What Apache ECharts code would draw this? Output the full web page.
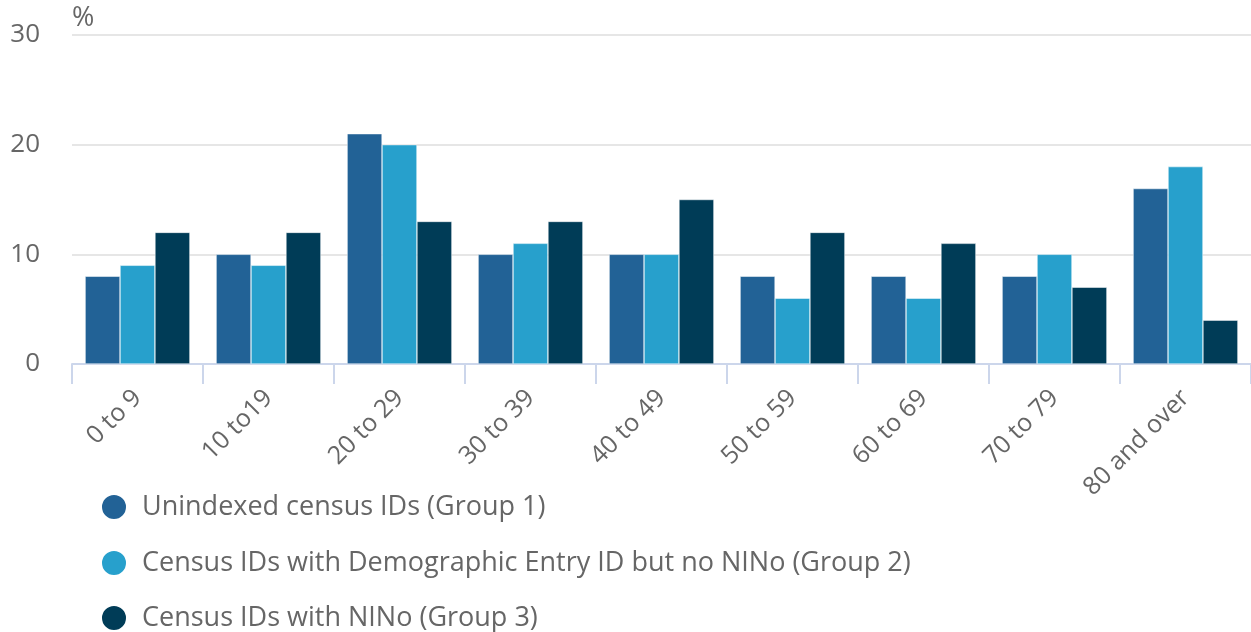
<!DOCTYPE html>
<html lang="en">
<head>
    <meta charset="UTF-8">
    <title>Census IDs by age group</title>
    <style type="text/css">
        body { margin: 0; background: #fff; }
        #chart { width: 1251px; height: 632px; }
    </style>
    <script type="text/javascript" src="https://cdn.jsdelivr.net/npm/echarts@6/dist/echarts.min.js"></script>
</head>
<body>
    <div id="chart"></div>
</body>
</html>
<script type="text/javascript">
    var ageGroups = ['0 to 9', '10 to19', '20 to 29', '30 to 39', '40 to 49', '50 to 59', '60 to 69', '70 to 79', '80 and over'];
    var group1 = [8, 10, 21, 10, 10, 8, 8, 8, 16];
    var group2 = [9, 9, 20, 11, 10, 6, 6, 10, 18];
    var group3 = [12, 12, 13, 13, 15, 12, 11, 7, 4];
    var seriesNames = [
        'Unindexed census IDs (Group 1)',
        'Census IDs with Demographic Entry ID but no NINo (Group 2)',
        'Census IDs with NINo (Group 3)'
    ];
    var colors = ['#226296', '#27a0cc', '#003c57'];
    var font = '"Open Sans", sans-serif';

    function makeBar(name, data, color) {
        return {
            name: name,
            type: 'bar',
            data: data,
            barGap: '0%',
            barCategoryGap: '20%',
            itemStyle: { color: color, borderColor: '#ffffff', borderWidth: 0.5 }
        };
    }

    // one legend per row so nothing wraps into columns
    function makeLegend(name, top) {
        return {
            orient: 'vertical',
            left: 100,
            top: top,
            padding: 0,
            icon: 'circle',
            itemWidth: 26,
            itemHeight: 26,
            textStyle: { fontSize: 27, color: '#666666', fontFamily: font, padding: [0, 0, 0, 10] },
            data: [name]
        };
    }

    var chart = echarts.init(document.getElementById('chart'));
    chart.setOption({
        animation: false,
        textStyle: { fontFamily: font },
        grid: { left: 72, right: 0, top: 35, bottom: 268, containLabel: false },
        legend: [
            makeLegend(seriesNames[0], 493),
            makeLegend(seriesNames[1], 549),
            makeLegend(seriesNames[2], 604)
        ],
        xAxis: {
            type: 'category',
            data: ageGroups,
            axisLine: { lineStyle: { color: '#ccd6eb', width: 2 } },
            axisTick: { show: true, length: 20, lineStyle: { color: '#ccd6eb', width: 2 } },
            axisLabel: { rotate: 45, fontSize: 25, color: '#666666', margin: 30, fontFamily: font }
        },
        yAxis: {
            type: 'value',
            min: 0,
            max: 30,
            interval: 10,
            name: '%',
            nameLocation: 'end',
            nameGap: 3,
            nameTextStyle: { fontSize: 27, color: '#666666', align: 'left', fontFamily: font },
            axisLine: { show: false },
            axisTick: { show: false },
            axisLabel: { fontSize: 26, color: '#666666', margin: 32, fontFamily: font },
            splitLine: { lineStyle: { color: '#e6e6e6', width: 2 } }
        },
        series: [
            makeBar(seriesNames[0], group1, colors[0]),
            makeBar(seriesNames[1], group2, colors[1]),
            makeBar(seriesNames[2], group3, colors[2])
        ]
    });
</script>
